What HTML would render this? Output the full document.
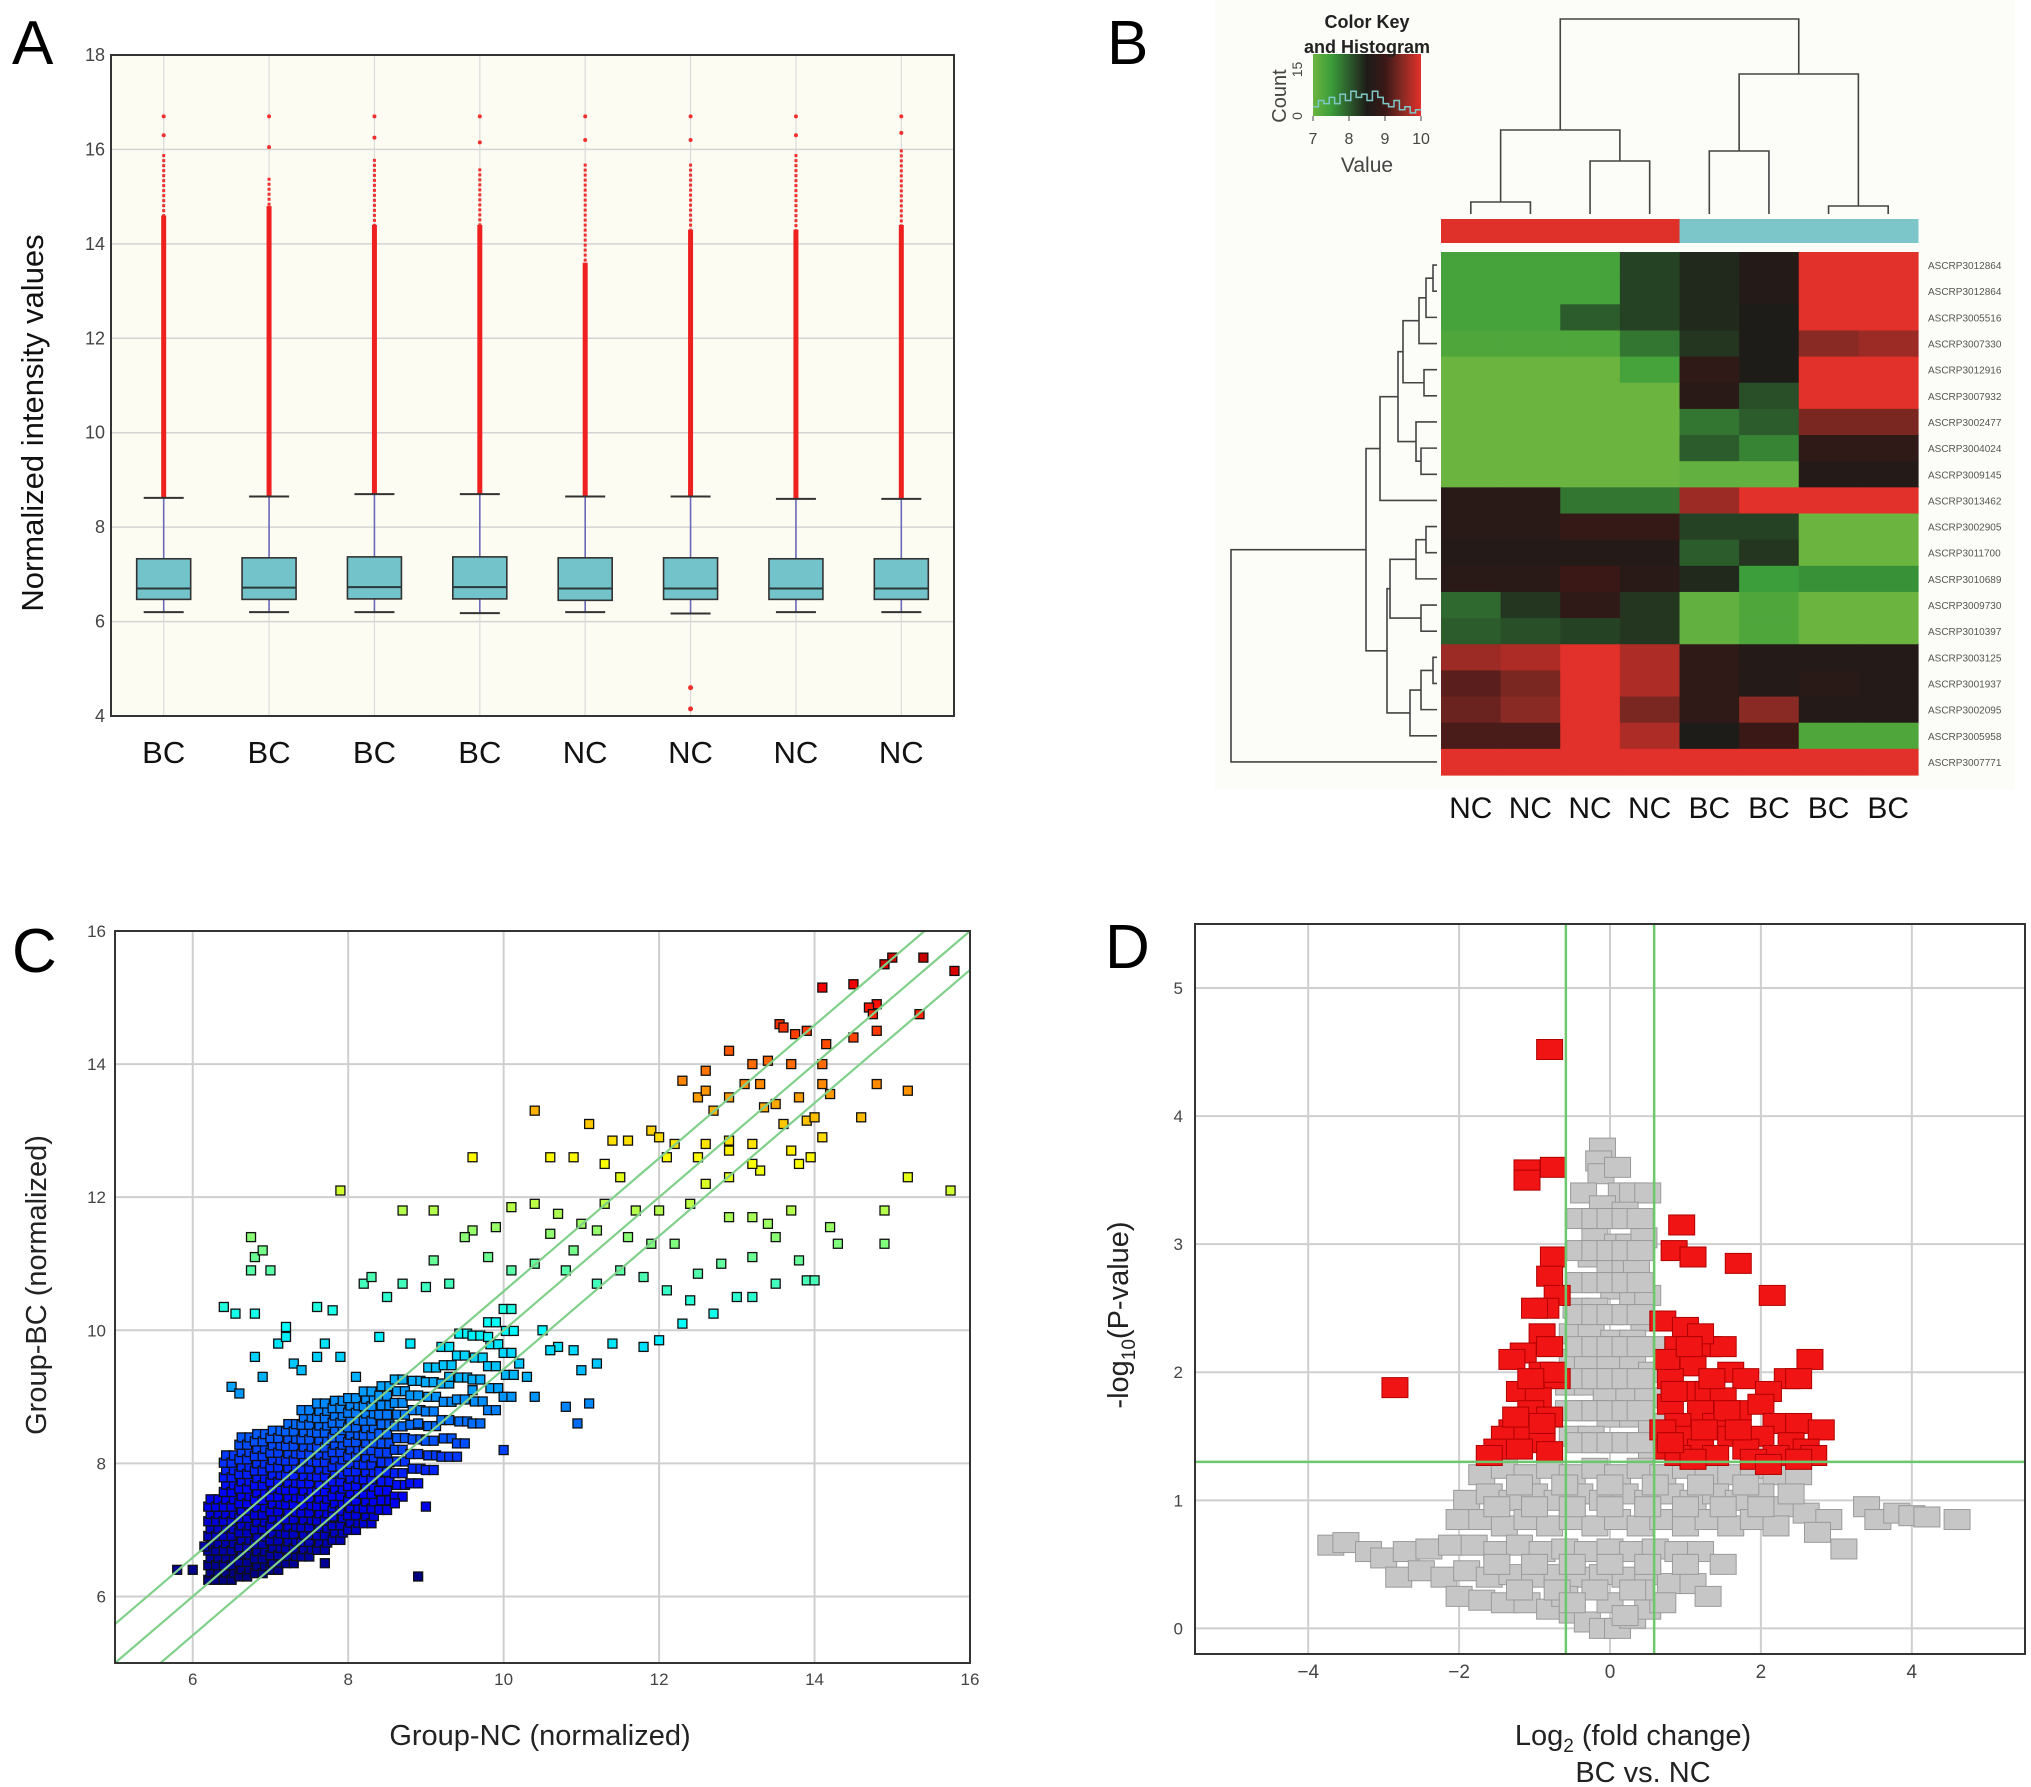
<!DOCTYPE html>
<html><head><meta charset="utf-8"><style>
html,body{margin:0;padding:0;background:#fff;}
svg{display:block;font-family:"Liberation Sans",Arial,sans-serif;}
</style></head><body>
<svg id="fig" width="2031" height="1787" viewBox="0 0 2031 1787" xmlns="http://www.w3.org/2000/svg">
<rect x="0" y="0" width="2031" height="1787" fill="#ffffff"/>
<g id="pA"></g>
<g id="pB"></g>
<g id="pC"></g>
<g id="pD"></g>
</svg>
<script>
// ---------- Panel A data ----------
const aCats = ["BC","BC","BC","BC","NC","NC","NC","NC"];
const aWhiskerHi = [8.62,8.65,8.7,8.7,8.65,8.65,8.6,8.6];
const aQ3 = [7.33,7.35,7.37,7.37,7.35,7.35,7.33,7.33];
const aMedian = [6.7,6.72,6.73,6.73,6.7,6.7,6.7,6.7];
const aQ1 = [6.47,6.47,6.48,6.48,6.45,6.47,6.47,6.47];
const aWhiskerLo = [6.2,6.2,6.2,6.18,6.2,6.17,6.2,6.2];
const aDenseMax = [14.6,14.8,14.4,14.4,13.6,14.3,14.3,14.4];
const aSparseMax = [15.9,15.4,15.8,15.6,15.7,15.7,15.9,16.0];
const aTopOutlier = [16.7,16.7,16.7,16.7,16.7,16.7,16.7,16.7];
const aLowOutliers = [[],[],[],[],[],[4.6,4.15],[],[]];
const aYTicks = [4,6,8,10,12,14,16,18];

// ---------- Panel B data ----------
const bColLabels = ["NC","NC","NC","NC","BC","BC","BC","BC"];
const bColGroups = ["NC","NC","NC","NC","BC","BC","BC","BC"];
const bRowLabels = ["ASCRP3012864","ASCRP3012864","ASCRP3005516","ASCRP3007330","ASCRP3012916","ASCRP3007932","ASCRP3002477","ASCRP3004024","ASCRP3009145","ASCRP3013462","ASCRP3002905","ASCRP3011700","ASCRP3010689","ASCRP3009730","ASCRP3010397","ASCRP3003125","ASCRP3001937","ASCRP3002095","ASCRP3005958","ASCRP3007771"];
const bValues = [
[7.4,7.4,7.4,8.2,8.4,8.6,10,10],
[7.4,7.4,7.4,8.2,8.4,8.6,10,10],
[7.4,7.4,8.0,8.2,8.4,8.5,10,10],
[7.3,7.3,7.3,7.8,8.3,8.5,9.5,9.6],
[7.0,7.0,7.0,7.4,8.8,8.5,10,10],
[7.0,7.0,7.0,7.0,8.7,8.1,10,10],
[7.0,7.0,7.0,7.0,7.8,8.0,9.4,9.4],
[7.0,7.0,7.0,7.0,8.0,7.7,8.8,8.8],
[7.0,7.0,7.0,7.0,7.1,7.1,8.6,8.6],
[8.7,8.7,7.8,7.8,9.6,10,10,10],
[8.7,8.7,8.9,8.9,8.2,8.2,7.0,7.0],
[8.6,8.6,8.6,8.6,8.0,8.3,7.0,7.0],
[8.7,8.7,9.0,8.7,8.4,7.5,7.6,7.6],
[7.9,8.3,8.8,8.3,7.1,7.3,7.0,7.0],
[8.0,8.1,8.2,8.3,7.1,7.3,7.0,7.0],
[9.6,9.7,10,9.7,8.8,8.6,8.6,8.6],
[9.2,9.4,10,9.7,8.8,8.6,8.7,8.6],
[9.3,9.5,10,9.4,8.8,9.5,8.6,8.6],
[9.1,9.1,10,9.7,8.5,9.0,7.3,7.3],
[10,10,10,10,10,10,10,10]];
// row dendrogram: [left, right, mergeHeight]; leaves are row indices
const bRowTree = [[[[[[[[0,1,4],2,11],3,18],[4,5,13],34],[6,[7,8,16],21],39],9,57],[[[[10,11,11],12,21],[13,14,16],47],[[[15,16,4],17,16],18,27],50],71],19,206];
const bColTree = [[[0,1,12],[2,3,53],84],[[4,5,63],[6,7,8],140],195];
const bHistCounts = [3,5,4,6,4,7,5,8,6,7,5,8,6,4,3,5,2,3,1,2];

// ---------- Panel C data ----------
const cXTicks = [6,8,10,12,14,16];
const cYTicks = [6,8,10,12,14,16];
const cFoldLines = [0,0.585,-0.585];
const cPointsX = [15.0,15.4,14.9,15.8,14.1,14.5,14.8,14.7,14.8,13.55,13.6,13.75,13.9,14.15,14.5,12.9,13.2,13.4,13.7,14.1,15.35,14.75,12.6,13.1,13.3,13.8,14.1,14.2,14.8,15.2,12.3,12.5,12.9,12.6,12.7,13.35,13.5,14.6,10.4,11.1,11.4,11.6,11.9,12.0,12.2,12.6,12.9,13.2,13.6,13.9,14.0,14.1,13.7,13.3,13.95,13.8,10.6,10.9,11.3,11.5,12.1,12.5,12.9,12.6,12.9,13.2,9.6,7.9,15.2,15.75,14.9,14.9,8.7,9.1,10.1,10.4,10.7,11.0,11.3,11.7,12.0,12.4,12.9,13.2,13.4,13.7,14.2,14.3,13.5,13.2,13.8,12.8,12.5,13.5,13.9,14.0,9.6,9.5,9.9,10.6,10.9,11.2,11.6,11.9,12.2,9.1,9.8,10.1,10.4,10.8,11.2,11.5,11.8,12.1,12.4,13.0,13.2,12.7,12.3,12.0,11.8,11.4,11.2,10.7,10.5,10.2,9.8,6.75,6.8,6.9,6.75,7.0,6.4,6.55,6.8,7.2,7.6,7.8,8.2,8.3,8.5,8.7,9.0,9.3,7.1,7.2,6.5,6.6,6.8,7.6,7.3,8.1,8.8,9.3,10.4,10.8,10.95,11.1,11.0,10.0,9.4,8.6,7.8,8.9,7.7,5.8,6.0,6.15,9.0,10.6,7.4,7.9,8.4,6.9,7.7,8.9,9.6,10.3,10.9];
const cPointsY = [15.6,15.6,15.5,15.4,15.15,15.2,14.9,14.85,14.5,14.6,14.55,14.45,14.5,14.3,14.4,14.2,14.0,14.05,14.0,14.0,14.75,14.75,13.9,13.7,13.7,13.5,13.7,13.55,13.7,13.6,13.75,13.5,13.5,13.6,13.3,13.35,13.4,13.2,13.3,13.1,12.85,12.85,13.0,12.9,12.8,12.8,12.85,12.8,13.1,13.15,13.2,12.9,12.7,12.4,12.6,12.5,12.6,12.6,12.5,12.3,12.6,12.6,12.7,12.2,12.3,12.5,12.6,12.1,12.3,12.1,11.8,11.3,11.8,11.8,11.85,11.9,11.75,11.6,11.9,11.8,11.8,11.9,11.7,11.7,11.6,11.8,11.55,11.3,11.4,11.1,11.05,11.0,10.85,10.7,10.75,10.75,11.5,11.4,11.55,11.45,11.2,11.5,11.4,11.3,11.3,11.05,11.1,10.9,11.0,10.9,10.7,10.9,10.8,10.6,10.45,10.5,10.5,10.25,10.1,9.85,9.75,9.8,9.5,9.75,10.0,9.5,9.9,11.4,11.1,11.2,10.9,10.9,10.35,10.25,10.25,10.05,10.35,10.3,10.7,10.8,10.5,10.7,10.65,10.7,9.8,9.9,9.15,9.05,9.6,9.6,9.5,9.3,9.8,9.3,9.0,8.85,8.6,8.9,9.4,8.2,8.1,7.4,7.2,6.3,6.5,6.4,6.4,6.75,7.35,9.7,9.4,9.6,9.9,9.3,9.8,8.6,9.1,9.3,9.7];
// dense core band: for each x bin, lower/upper extent of the filled cloud and fill density (1 = solid)
const cCoreX = [6.2,6.4,6.6,6.8,7.0,7.2,7.4,7.6,7.8,8.0,8.2,8.4,8.6,8.8,9.0,9.2,9.4,9.6,9.8,10.0];
const cCoreLo = [6.25,6.25,6.3,6.35,6.4,6.5,6.6,6.7,6.85,7.0,7.1,7.3,7.5,7.7,7.9,8.1,8.3,8.6,8.8,9.0];
const cCoreHi = [7.5,8.2,8.4,8.5,8.6,8.7,8.8,8.9,9.0,9.0,9.1,9.2,9.3,9.4,9.6,9.8,10.0,10.2,10.4,10.6];
const cCoreDensity = [1,1,1,1,1,1,1,1,1,1,1,1.3,1.6,2,2,2.5,3,3,3,3];

// ---------- Panel D data ----------
const dXTicks = [-4,-2,0,2,4];
const dYTicks = [0,1,2,3,4,5];
const dFcCut = [-0.585,0.585];
const dPCut = 1.3;
const dGrayX = [-0.1,-0.15,-0.12,0.1,-0.35,0.15,0.3,0.5,-0.1,0.05,0.2,-0.2,0.1,0.25,0.45,-0.25,0,0.2,0.35,-0.4,-0.15,0.05,0.3,0.5,-0.45,-0.2,0,0.25,0.45,-0.5,-0.25,0.05,0.3,0.55,-0.5,-0.3,0,0.3,0.55,-0.55,-0.3,-0.05,0.25,0.5,-0.55,-0.3,0,0.3,0.55,-0.5,-0.25,0.05,0.3,0.55,-1.7,-1.4,-1.1,-0.8,-0.5,-0.2,0.1,0.4,0.7,1.0,1.3,1.6,1.9,2.2,2.5,-1.9,-1.6,-1.3,-1.0,-0.7,-0.4,-0.1,0.2,0.5,0.8,1.1,1.4,1.7,2.0,2.3,2.6,-2.0,-1.7,-1.4,-1.1,-0.8,-0.5,-0.2,0.1,0.4,0.7,1.0,1.3,1.6,1.9,2.2,2.9,3.4,3.55,3.8,4.0,4.2,4.6,2.75,3.1,-3.7,-3.5,-3.2,-3.0,-2.7,-2.4,-2.1,-1.8,-1.5,-1.2,-0.9,-0.6,-0.3,0,0.3,0.6,0.9,1.2,1.5,-2.8,-2.5,-2.2,-1.9,-1.6,-1.3,-1.0,-0.7,-0.4,-0.1,0.2,0.5,0.8,1.1,1.3,-2.0,-1.7,-1.4,-1.1,-0.8,-0.5,-0.3,-0.1,0.1,0.3,0.5,0.7,-0.6,0.0,0.4,
-0.4,-0.2,0,0.2,0.4,-0.4,-0.2,0,0.2,0.4,-0.4,-0.2,0,0.2,0.4,-0.4,-0.2,0,0.2,0.4,-0.4,-0.2,0,0.2,0.4,-0.4,-0.2,0,0.2,0.4,-0.4,-0.2,0,0.2,0.4,-0.4,-0.2,0,0.2,0.4,
-1.5,-1,-0.5,0,0.5,1,-1.2,-0.7,-0.2,0.3,-0.5,0.2,-1.5,-1,-0.5,0,0.5,1,1.5,2,-1.2,-0.6,0,0.6,1.2,1.8,2.4];
const dGrayY = [3.75,3.65,3.55,3.6,3.4,3.4,3.4,3.4,3.3,3.2,3.25,3.1,3.0,3.0,3.05,2.9,2.85,2.8,2.8,2.7,2.7,2.65,2.6,2.6,2.5,2.5,2.45,2.45,2.4,2.3,2.3,2.25,2.25,2.2,2.1,2.1,2.05,2.05,2.0,1.9,1.9,1.85,1.85,1.8,1.7,1.7,1.65,1.65,1.6,1.5,1.5,1.45,1.45,1.4,1.2,1.25,1.2,1.25,1.2,1.25,1.2,1.25,1.2,1.25,1.2,1.2,1.25,1.2,1.2,1.0,1.05,1.0,1.05,1.0,1.05,1.0,1.05,1.0,1.05,1.0,1.05,1.0,1.05,0.95,0.9,0.85,0.85,0.8,0.85,0.8,0.85,0.8,0.85,0.8,0.85,0.8,0.85,0.8,0.85,0.8,0.85,0.95,0.85,0.9,0.88,0.87,0.85,0.75,0.62,0.65,0.67,0.6,0.55,0.6,0.62,0.65,0.65,0.6,0.65,0.6,0.62,0.6,0.62,0.6,0.62,0.6,0.6,0.5,0.4,0.45,0.4,0.45,0.4,0.42,0.4,0.42,0.4,0.42,0.4,0.42,0.35,0.35,0.25,0.25,0.22,0.2,0.2,0.15,0.12,0.05,0.0,0.0,0.08,0.15,0.2,0.25,0.2,0.3,
3.2,3.2,3.2,3.2,3.2,2.95,2.95,2.95,2.95,2.95,2.7,2.7,2.7,2.7,2.7,2.45,2.45,2.45,2.45,2.45,2.2,2.2,2.2,2.2,2.2,1.95,1.95,1.95,1.95,1.95,1.7,1.7,1.7,1.7,1.7,1.45,1.45,1.45,1.45,1.45,
0.5,0.5,0.5,0.5,0.5,0.5,0.3,0.3,0.3,0.3,0.2,0.1,0.95,0.95,0.95,0.95,0.95,0.95,0.95,0.95,1.12,1.12,1.12,1.12,1.12,1.12,1.05];
const dRedX = [-0.8,-1.1,-1.1,-0.75,-0.75,-0.8,-0.7,-0.85,-0.9,-1.15,-0.8,-1.3,-0.9,-0.7,-1.2,-0.95,-1.05,-0.8,-1.3,-1.4,-1.1,-0.9,-1.5,-1.2,-1.6,-0.8,-2.85,0.95,0.85,1.1,1.7,2.15,0.7,1.0,1.3,1.5,0.9,2.65,1.1,1.6,1.8,2.35,2.5,0.8,1.0,1.3,2.1,1.5,0.8,1.2,1.7,2.0,0.9,1.4,2.2,2.5,2.8,1.0,1.6,2.0,2.4,0.75,1.2,1.8,2.6,2.7,0.9,1.4,2.2,1.1,1.9,2.5,2.1,0.75,1.2,0.7,1.35,1.55,0.85,1.25,1.7,1.05,0.8,-1.0,-0.75,-1.05,-0.9,-1.25];
const dRedY = [4.52,3.58,3.5,3.6,2.9,2.75,2.6,2.5,2.3,2.15,2.2,2.1,2.0,1.95,1.85,1.8,1.7,1.65,1.55,1.5,1.5,1.45,1.4,1.4,1.35,1.38,1.88,3.15,2.95,2.9,2.85,2.6,2.4,2.35,2.2,2.2,2.2,2.1,2.05,2.0,1.95,1.95,1.95,1.95,1.85,1.85,1.85,1.8,1.75,1.7,1.7,1.75,1.6,1.6,1.6,1.6,1.55,1.5,1.5,1.5,1.45,1.4,1.4,1.4,1.4,1.35,1.35,1.35,1.35,1.32,1.32,1.32,1.28,2.1,2.3,1.55,1.95,1.7,1.85,1.55,1.55,2.2,1.45,2.5,2.0,1.95,1.6,1.65];

// ---------- helpers ----------
const NS = "http://www.w3.org/2000/svg";
function mk(parent, tag, attrs, text){
  const e = document.createElementNS(NS, tag);
  for (const k in attrs) e.setAttribute(k, attrs[k]);
  if (text !== undefined) e.textContent = text;
  parent.appendChild(e);
  return e;
}
function lin(d0,d1,r0,r1){ return v => r0 + (v-d0)/(d1-d0)*(r1-r0); }
function jet(t){
  t = Math.max(0, Math.min(1, t));
  const r = Math.max(0, Math.min(1, 1.5 - Math.abs(4*t-3)));
  const g = Math.max(0, Math.min(1, 1.5 - Math.abs(4*t-2)));
  const b = Math.max(0, Math.min(1, 1.5 - Math.abs(4*t-1)));
  return "rgb(" + Math.round(r*255) + "," + Math.round(g*255) + "," + Math.round(b*255) + ")";
}

// ================= PANEL A =================
(function(){
  const g = document.getElementById("pA");
  const L=111,R=954,T=55,B=716;
  const y = lin(4,18,B,T);
  const band = (R-L)/aCats.length;
  const xc = i => L + band*(i+0.5);
  const lbl = mk(g,"text",{x:12,y:64,"font-size":62,fill:"#000"},"A");
  
  
  const bg = mk(g,"rect",{x:L,y:T,width:R-L,height:B-T,fill:"#fdfcf3"});
  
  
  aYTicks.forEach(v=>{
    const gl = mk(g,"line",{x1:L,x2:R,y1:y(v),y2:y(v),stroke:"#d4d4d4","stroke-width":1.5});
    
    
    const t = mk(g,"text",{x:L-6,y:y(v)+6,"font-size":18,fill:"#444","text-anchor":"end"},String(v));
    
    
  });
  aCats.forEach((c,i)=>{
    const gl = mk(g,"line",{x1:xc(i),x2:xc(i),y1:T,y2:B,stroke:"#dadada","stroke-width":1.2});
    
    
    const cx = xc(i), hw = 27;
    const w1 = mk(g,"line",{x1:cx,x2:cx,y1:y(aQ3[i]),y2:y(aWhiskerHi[i]),stroke:"#6a6ab8","stroke-width":1.6});
    
    
    const w2 = mk(g,"line",{x1:cx,x2:cx,y1:y(aQ1[i]),y2:y(aWhiskerLo[i]),stroke:"#6a6ab8","stroke-width":1.6});
    
    
    const od = mk(g,"rect",{x:cx-2.5,y:y(aDenseMax[i]),width:5,height:y(aWhiskerHi[i])-y(aDenseMax[i]),fill:"#ee2020"});
    
    
    const os = mk(g,"line",{x1:cx,x2:cx,y1:y(aSparseMax[i]),y2:y(aDenseMax[i]),stroke:"#ee3030","stroke-width":3,"stroke-dasharray":"3 2"});
    
    
    [aTopOutlier[i], (aTopOutlier[i]+aSparseMax[i])/2].forEach(v=>{
      const d = mk(g,"circle",{cx:cx,cy:y(v),r:2,fill:"#ee3030"});
      
      
    });
    aLowOutliers[i].forEach(v=>{
      const d = mk(g,"circle",{cx:cx,cy:y(v),r:2.5,fill:"#ee3030"});
      
      
    });
    const c1 = mk(g,"line",{x1:cx-20,x2:cx+20,y1:y(aWhiskerHi[i]),y2:y(aWhiskerHi[i]),stroke:"#333","stroke-width":2});
    
    
    const c2 = mk(g,"line",{x1:cx-20,x2:cx+20,y1:y(aWhiskerLo[i]),y2:y(aWhiskerLo[i]),stroke:"#333","stroke-width":2});
    
    
    const bx = mk(g,"rect",{x:cx-hw,y:y(aQ3[i]),width:hw*2,height:y(aQ1[i])-y(aQ3[i]),fill:"#73c3ca",stroke:"#333","stroke-width":1.6});
    
    
    const md = mk(g,"line",{x1:cx-hw,x2:cx+hw,y1:y(aMedian[i]),y2:y(aMedian[i]),stroke:"#2a3a3a","stroke-width":2});
    
    
    const t = mk(g,"text",{x:cx,y:763,"font-size":31,fill:"#111","text-anchor":"middle"},c);
    
    
  });
  const fr = mk(g,"rect",{x:L,y:T,width:R-L,height:B-T,fill:"none",stroke:"#333","stroke-width":2});
  
  
  const yt = mk(g,"text",{x:0,y:0,"font-size":31,fill:"#111","text-anchor":"middle",transform:"translate(43,423) rotate(-90)"},"Normalized intensity values");
  
  
})();

// ================= PANEL B =================
(function(){
  const g = document.getElementById("pB");
  const bg = mk(g,"rect",{x:1215,y:0,width:800,height:790,fill:"#fcfcf8"});
  
  
  const lbl = mk(g,"text",{x:1107,y:64,"font-size":62,fill:"#000"},"B");
  
  
  const HL=1441,HR=1918,HT=252,HB=775;
  const nR = bValues.length, nC = bColLabels.length;
  const cw=(HR-HL)/nC, rh=(HB-HT)/nR;
  const stops=[[7.0,[108,180,64]],[7.5,[60,158,58]],[8.0,[44,92,44]],[8.5,[30,28,24]],[9.0,[58,24,22]],[9.5,[138,42,36]],[10,[226,48,42]]];
  function col(v){
    if (v<=stops[0][0]) return "rgb("+stops[0][1].join(",")+")";
    for (let k=1;k<stops.length;k++){
      if (v<=stops[k][0]){
        const a=stops[k-1],b=stops[k],t=(v-a[0])/(b[0]-a[0]);
        return "rgb("+a[1].map((c,j)=>Math.round(c+(b[1][j]-c)*t)).join(",")+")";
      }
    }
    return "rgb("+stops[stops.length-1][1].join(",")+")";
  }
  const kx=lin(7,10,1313,1421), KT=54, KB=116;
  const grad = mk(g,"defs",{});
  const lg = mk(grad,"linearGradient",{id:"keyGrad",x1:"0",x2:"1",y1:"0",y2:"0"});
  stops.forEach(s=>{ mk(lg,"stop",{offset:((s[0]-7)/3),"stop-color":col(s[0])}); });
  const kb = mk(g,"rect",{x:kx(7),y:KT,width:kx(10)-kx(7),height:KB-KT,fill:"url(#keyGrad)"});
  
  
  const hy = lin(0,20,KB,KT);
  let pts="";
  bHistCounts.forEach((c,i)=>{ const xa=kx(7+i*3/bHistCounts.length), xb=kx(7+(i+1)*3/bHistCounts.length); pts+=xa+","+hy(c)+" "+xb+","+hy(c)+" "; });
  const hl = mk(g,"polyline",{points:pts,fill:"none",stroke:"#7fc8c8","stroke-width":1.5});
  
  
  const kt1 = mk(g,"text",{x:1367,y:28,"font-size":18,"font-weight":"bold",fill:"#222","text-anchor":"middle"},"Color Key");
  
  
  const kt2 = mk(g,"text",{x:1367,y:53,"font-size":18,"font-weight":"bold",fill:"#222","text-anchor":"middle"},"and Histogram");
  
  
  [7,8,9,10].forEach(v=>{
    const t = mk(g,"text",{x:kx(v),y:144,"font-size":16,fill:"#444","text-anchor":"middle"},String(v));
    
    
    mk(g,"line",{x1:kx(v),x2:kx(v),y1:KB,y2:KB+5,stroke:"#444"});
  });
  [0,15].forEach(v=>{
    const t = mk(g,"text",{x:0,y:0,"font-size":14,fill:"#444","text-anchor":"middle",transform:"translate(1302,"+hy(v)+") rotate(-90)"},String(v));
    
    
  });
  const ctt = mk(g,"text",{x:0,y:0,"font-size":20,fill:"#444","text-anchor":"middle",transform:"translate(1286,96) rotate(-90)"},"Count");
  
  
  const vt = mk(g,"text",{x:1367,y:172,"font-size":21,fill:"#444","text-anchor":"middle"},"Value");
  
  
  bColGroups.forEach((grp,j)=>{
    const r = mk(g,"rect",{x:HL+j*cw,y:219,width:cw+0.5,height:24,fill:grp==="NC"?"#e0302a":"#7cc5c8"});
    
    
  });
  bValues.forEach((row,i)=>{
    row.forEach((v,j)=>{
      const r = mk(g,"rect",{x:HL+j*cw,y:HT+i*rh,width:cw+0.6,height:rh+0.6,fill:col(v)});
      
      
    });
    const t = mk(g,"text",{x:HR+10,y:HT+(i+0.5)*rh+4,"font-size":10,fill:"#555"},bRowLabels[i]);
    
    
  });
  bColLabels.forEach((c,j)=>{
    const t = mk(g,"text",{x:HL+(j+0.5)*cw,y:818,"font-size":30,fill:"#111","text-anchor":"middle"},c);
    
    
  });
  function drawRow(node){
    if (typeof node==="number") return {y:HT+(node+0.5)*rh, x:HL-4};
    const a=drawRow(node[0]), b=drawRow(node[1]);
    const x = HL-4-node[2];
    const p = mk(g,"path",{d:"M"+a.x+","+a.y+"H"+x+"V"+b.y+"H"+b.x,fill:"none",stroke:"#444","stroke-width":1.6});
    
    
    return {x:x,y:(a.y+b.y)/2};
  }
  drawRow(bRowTree);
  function drawCol(node){
    if (typeof node==="number") return {x:HL+(node+0.5)*cw, y:214};
    const a=drawCol(node[0]), b=drawCol(node[1]);
    const y = 214-node[2];
    const p = mk(g,"path",{d:"M"+a.x+","+a.y+"V"+y+"H"+b.x+"V"+b.y,fill:"none",stroke:"#444","stroke-width":1.6});
    
    
    return {x:(a.x+b.x)/2,y:y};
  }
  drawCol(bColTree);
})();

// ================= PANEL C =================
(function(){
  const g = document.getElementById("pC");
  const L=115,R=970,T=931,B=1663;
  const x=lin(5,16,L,R), y=lin(5,16,B,T);
  const lbl = mk(g,"text",{x:12,y:972,"font-size":62,fill:"#000"},"C");
  
  
  const clip = mk(g,"clipPath",{id:"clipC"});
  mk(clip,"rect",{x:L,y:T,width:R-L,height:B-T});
  cXTicks.forEach(v=>{
    const gl = mk(g,"line",{x1:x(v),x2:x(v),y1:T,y2:B,stroke:"#cfcfcf","stroke-width":2});
    
    
    const t = mk(g,"text",{x:x(v),y:B+22,"font-size":17,fill:"#444","text-anchor":"middle"},String(v));
    
    
  });
  cYTicks.forEach(v=>{
    const gl = mk(g,"line",{x1:L,x2:R,y1:y(v),y2:y(v),stroke:"#cfcfcf","stroke-width":2});
    
    
    const t = mk(g,"text",{x:L-9,y:y(v)+6,"font-size":17,fill:"#444","text-anchor":"end"},String(v));
    
    
  });
  const pg = mk(g,"g",{"clip-path":"url(#clipC)"});
  const s=9;
  function sq(px,py,name){
    const r = mk(pg,"rect",{x:x(px)-s/2,y:y(py)-s/2,width:s,height:s,fill:jet((py-6.3)/10),stroke:"#111","stroke-width":1.3});
    
    
  }
  cCoreX.forEach((cx,i)=>{
    const d=cCoreDensity[i];
    for (let sx=0; sx<2; sx++){
      const px = cx + sx*0.1;
      let j=0;
      for (let py=cCoreLo[i]; py<=cCoreHi[i]; py+=0.11*d, j++){
        sq(px + ((j%2)?0.03:0), py, 'core-point');
      }
    }
  });
  cPointsX.forEach((px,i)=>{ sq(px,cPointsY[i],'scatter-point'); });
  cFoldLines.forEach(off=>{
    const ln = mk(pg,"line",{x1:x(5),y1:y(5+off),x2:x(16),y2:y(16+off),stroke:"#80d08a","stroke-width":2.2});
    
    
  });
  const fr = mk(g,"rect",{x:L,y:T,width:R-L,height:B-T,fill:"none",stroke:"#333","stroke-width":2});
  
  
  const xt = mk(g,"text",{x:540,y:1745,"font-size":29,fill:"#222","text-anchor":"middle"},"Group-NC (normalized)");
  
  
  const yt = mk(g,"text",{x:0,y:0,"font-size":29,fill:"#222","text-anchor":"middle",transform:"translate(46,1285) rotate(-90)"},"Group-BC (normalized)");
  
  
})();

// ================= PANEL D =================
(function(){
  const g = document.getElementById("pD");
  const L=1195,R=2025,T=924,B=1654;
  const x=lin(-5.5,5.5,L,R), y=lin(-0.2,5.5,B,T);
  const lbl = mk(g,"text",{x:1105,y:968,"font-size":62,fill:"#000"},"D");
  
  
  const clip = mk(g,"clipPath",{id:"clipD"});
  mk(clip,"rect",{x:L,y:T,width:R-L,height:B-T});
  dXTicks.forEach(v=>{
    const gl = mk(g,"line",{x1:x(v),x2:x(v),y1:T,y2:B,stroke:"#cfcfcf","stroke-width":2});
    
    
    const t = mk(g,"text",{x:x(v),y:B+24,"font-size":19,fill:"#444","text-anchor":"middle"},v<0?"\u2212"+(-v):String(v));
    
    
  });
  dYTicks.forEach(v=>{
    const gl = mk(g,"line",{x1:L,x2:R,y1:y(v),y2:y(v),stroke:"#cfcfcf","stroke-width":2});
    
    
    const t = mk(g,"text",{x:L-12,y:y(v)+6,"font-size":17,fill:"#444","text-anchor":"end"},String(v));
    
    
  });
  const pg = mk(g,"g",{"clip-path":"url(#clipD)"});
  const w=26,h=20;
  dGrayX.forEach((px,i)=>{
    const r = mk(pg,"rect",{x:x(px)-w/2,y:y(dGrayY[i])-h/2,width:w,height:h,fill:"#c6c6c6",stroke:"#9a9a9a","stroke-width":1});
    
    
  });
  dRedX.forEach((px,i)=>{
    const r = mk(pg,"rect",{x:x(px)-w/2,y:y(dRedY[i])-h/2,width:w,height:h,fill:"#f01414",stroke:"#b00000","stroke-width":1});
    
    
  });
  dFcCut.forEach(v=>{
    const ln = mk(pg,"line",{x1:x(v),x2:x(v),y1:T,y2:B,stroke:"#6cc86c","stroke-width":2.5});
    
    
  });
  const hl = mk(pg,"line",{x1:L,x2:R,y1:y(dPCut),y2:y(dPCut),stroke:"#6cc86c","stroke-width":2.5});
  
  
  const fr = mk(g,"rect",{x:L,y:T,width:R-L,height:B-T,fill:"none",stroke:"#333","stroke-width":2});
  
  
  const xt = mk(g,"text",{x:1633,y:1745,"font-size":29,fill:"#222","text-anchor":"middle"});
  
  
  mk(xt,"tspan",{},"Log");
  mk(xt,"tspan",{"font-size":19,dy:7},"2");
  mk(xt,"tspan",{dy:-7},"  (fold change)");
  const xt2 = mk(g,"text",{x:1643,y:1782,"font-size":29,fill:"#222","text-anchor":"middle"},"BC vs. NC");
  
  
  const yt = mk(g,"text",{x:0,y:0,"font-size":29,fill:"#222","text-anchor":"middle",transform:"translate(1128,1315) rotate(-90)"});
  
  
  mk(yt,"tspan",{},"-log");
  mk(yt,"tspan",{"font-size":19,dy:7},"10");
  mk(yt,"tspan",{dy:-7},"(P-value)");
})();
</script>
</body></html>
